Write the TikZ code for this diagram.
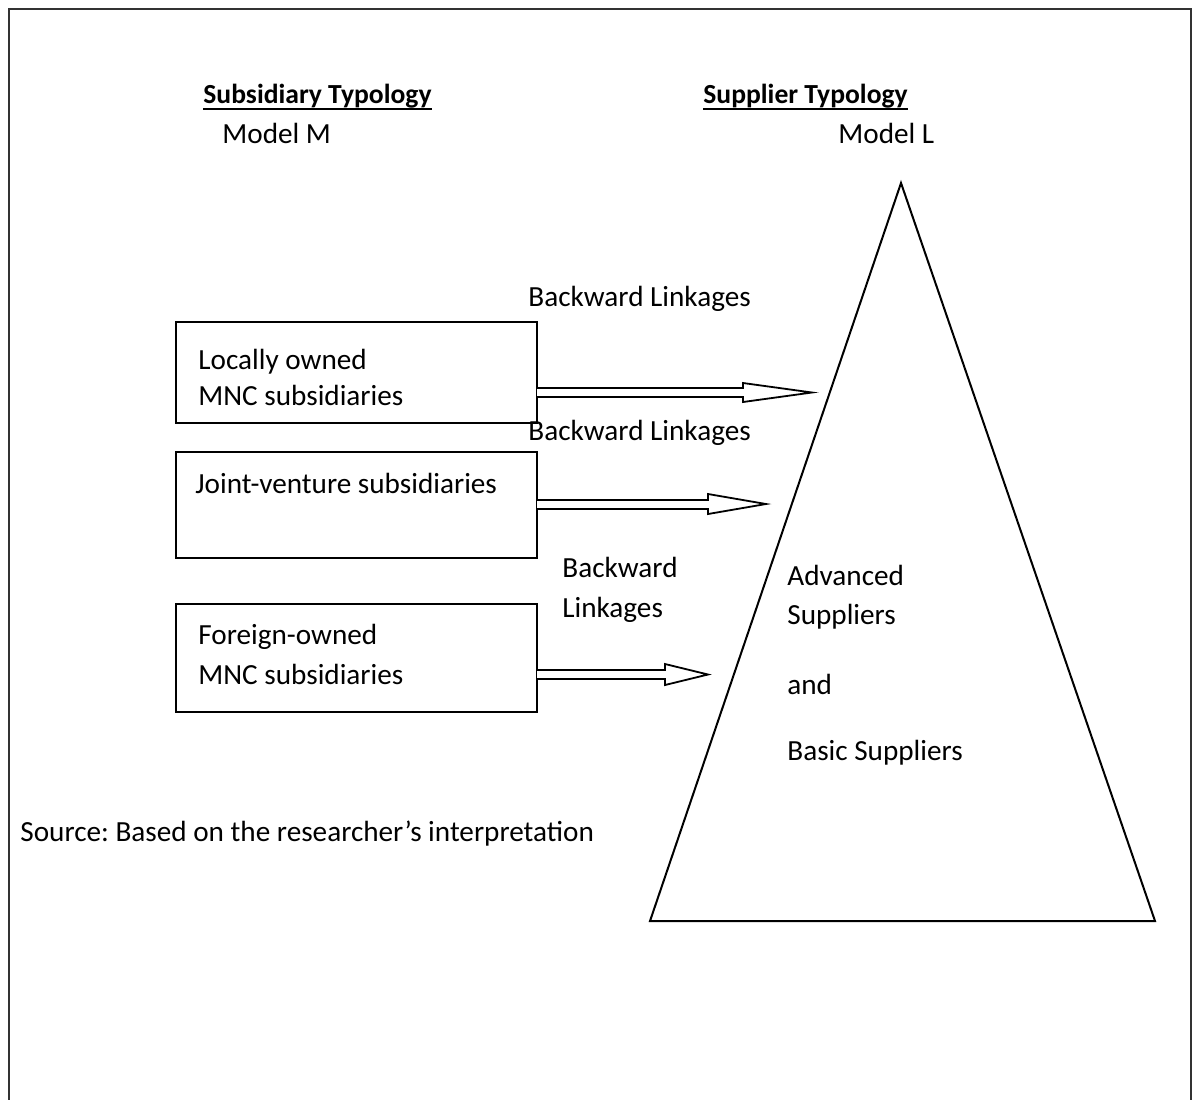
\documentclass[tikz,border=0pt]{standalone}
\usepackage{fontspec}
\setmainfont{Carlito}
\frenchspacing
\begin{document}
\begin{tikzpicture}[x=0.5pt,y=-0.5pt,
  txt/.style={anchor=base west,inner sep=0pt,font=\fontsize{14.6}{18}\selectfont},
  head/.style={txt,font=\fontsize{13.8}{16}\selectfont\bfseries},
  subbox/.style={draw,line width=1pt},
  blockarrow/.style={draw,line width=0.9pt,fill=white,line join=miter}]
\useasboundingbox (0,0) rectangle (1197,1099);
\clip (0,0) rectangle (1197,1099);
% outer frame, open at the bottom edge of the page
\draw[line width=1pt,black!80] (9,1120) -- (9,9) -- (1191,9) -- (1191,1120);

% column headings
\node[head] (hsub) at (203,103) {Subsidiary Typology};
\node[head] (hsup) at (703,103) {Supplier Typology};
\draw[line width=1.2pt] (hsub.base west) ++(0,6) -- ([yshift=-3pt]hsub.base east);
\draw[line width=1.2pt] (hsup.base west) ++(0,6) -- ([yshift=-3pt]hsup.base east);
\node[txt] (mm) at (222,143) {Model M};
\node[txt] (ml) at (838,143) {Model L};

% supplier pyramid
\coordinate (apex) at (901,183);
\coordinate (bl) at (650,921);
\coordinate (br) at (1155,921);
\draw[line width=1pt,line join=miter] (apex) -- (bl) -- (br) -- cycle;
\node[txt] (adv) at (787,585) {Advanced};
\node[txt] (sup) at (787,624) {Suppliers};
\node[txt] (and) at (787,694) {and};
\node[txt] (bas) at (787,760) {Basic Suppliers};

% subsidiary boxes
\draw[subbox] (176,322) rectangle (537,423);
\draw[subbox] (176,452) rectangle (537,558);
\draw[subbox] (176,604) rectangle (537,712);
\node[txt] (l1a) at (198,369) {Locally owned};
\node[txt] (l1b) at (198,405) {MNC subsidiaries};
\node[txt] (l2a) at (195,493) {Joint-venture subsidiaries};
\node[txt] (l3a) at (198,644) {Foreign-owned};
\node[txt] (l3b) at (198,684) {MNC subsidiaries};

% linkage labels
\node[txt] (bk1) at (528,306) {Backward Linkages};
\node[txt] (bk2) at (528,440) {Backward Linkages};
\node[txt] (bk3a) at (562,577) {Backward};
\node[txt] (bk3b) at (562,617) {Linkages};

% block arrows from each box towards the pyramid
\draw[blockarrow] (537,388) -- (743,388) -- (743,383) -- (812,392.5)
  -- (743,402) -- (743,397) -- (537,397);
\draw[blockarrow] (537,500) -- (708,500) -- (708,494) -- (766,504)
  -- (708,514) -- (708,509) -- (537,509);
\draw[blockarrow] (537,670) -- (665,670) -- (665,664) -- (708,674.5)
  -- (665,685) -- (665,679) -- (537,679);

% source line
\node[txt] (src) at (20,841) {Source: Based on the researcher’s interpretation};
\end{tikzpicture}
\end{document}
